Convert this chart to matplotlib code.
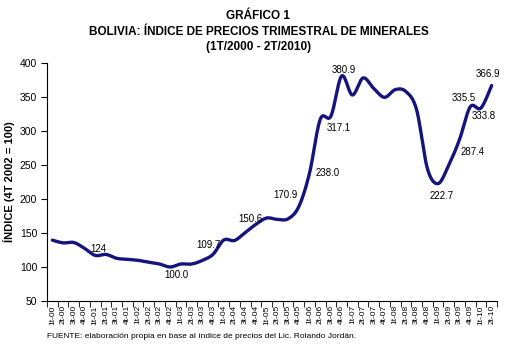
import numpy as np
import matplotlib.pyplot as plt

# Data
quarters = ["1t-00", "2t-00", "3t-00", "4t-00", "1t-01", "2t-01", "3t-01", "4t-01",
            "1t-02", "2t-02", "3t-02", "4t-02", "1t-03", "2t-03", "3t-03", "4t-03",
            "1t-04", "2t-04", "3t-04", "4t-04", "1t-05", "2t-05", "3t-05", "4t-05",
            "1t-06", "2t-06", "3t-06", "4t-06", "1t-07", "2t-07", "3t-07", "4t-07",
            "1t-08", "2t-08", "3t-08", "4t-08", "1t-09", "2t-09", "3t-09", "4t-09",
            "1t-10", "2t-10"]
index = [139.5, 135.5, 136.0, 127.5, 117.0, 118.5, 112.8, 111.3,
         109.8, 107.0, 104.4, 100.0, 104.4, 104.4, 109.7, 118.7,
         139.7, 139.0, 150.6, 162.8, 172.0, 170.0, 170.9, 188.7,
         238.0, 317.1, 322.0, 380.9, 353.0, 378.0, 362.5, 349.5,
         360.8, 358.0, 331.0, 245.0, 222.7, 250.0, 287.4, 335.5,
         333.8, 366.9]
# labels shown on the chart: (position, text)
label_pos = [5, 11, 14, 18, 22, 24, 25, 27, 36, 38, 39, 40, 41]
label_txt = ["124", "100.0", "109.7", "150.6", "170.9", "238.0", "317.1",
             "380.9", "222.7", "287.4", "335.5", "333.8", "366.9"]
# label offsets in pixels (dx, dy)
label_off = [(-8, 5), (6, -8), (6, 15), (5, 14), (-3, 24), (18, 0), (19, -9),
             (2, 6), (4, -12), (13, -12), (-6, 9), (3, -8), (-4, 12)]

plt.rcParams['font.family'] = ['Liberation Sans', 'DejaVu Sans']

# smoothed line (Catmull-Rom, like Excel's smoothed line)
x = np.arange(len(index), dtype=float)
y = np.array(index)
px = np.concatenate([[x[0]], x, [x[-1]]])
py = np.concatenate([[y[0]], y, [y[-1]]])
xs, ys = [], []
t = np.linspace(0, 1, 20)
for k in range(1, len(px) - 2):
    p0, p1, p2, p3 = [np.array([px[j], py[j]]) for j in (k - 1, k, k + 1, k + 2)]
    c1 = p1 + (p2 - p0) / 6
    c2 = p2 - (p3 - p1) / 6
    pts = (((1 - t) ** 3)[:, None] * p1 + (3 * (1 - t) ** 2 * t)[:, None] * c1
           + (3 * (1 - t) * t ** 2)[:, None] * c2 + (t ** 3)[:, None] * p2)
    xs.extend(pts[:, 0])
    ys.extend(pts[:, 1])

fig = plt.figure(figsize=(5.17, 3.5), dpi=100)
ax = fig.add_axes([47 / 517, 1 - 301 / 350, 450 / 517, 238 / 350])
ax.plot(xs, ys, color='#14147c', lw=2.4, solid_capstyle='round')

for i, txt, off in zip(label_pos, label_txt, label_off):
    ax.annotate(txt, (i, index[i]), xytext=off, textcoords='offset pixels',
                ha='center', va='center', fontsize=7)

ax.set_xlim(-0.5, len(quarters) - 0.5)
ax.set_ylim(50, 400)
ax.set_yticks(range(50, 401, 50))
ax.set_xticks(x)
ax.set_xticklabels(quarters, rotation=90, fontsize=6)
ax.set_xticks(np.arange(-0.5, len(quarters), 1), minor=True)
ax.tick_params(axis='x', which='major', length=0, pad=3)
ax.tick_params(axis='x', which='minor', length=4, direction='out')
ax.tick_params(axis='y', length=4, direction='out', labelsize=7.5, pad=3)
ax.spines['top'].set_visible(False)
ax.spines['right'].set_visible(False)
ax.set_ylabel('ÍNDICE (4T 2002 = 100)', fontsize=8, fontweight='bold')
ax.yaxis.set_label_coords(-0.07, 0.5)

fig.text(0.5, 1 - 16 / 350, 'GRÁFICO 1', ha='center', va='center', fontsize=8.5, fontweight='bold')
fig.text(0.5, 1 - 32 / 350, 'BOLIVIA: ÍNDICE DE PRECIOS TRIMESTRAL DE MINERALES',
         ha='center', va='center', fontsize=8.5, fontweight='bold')
fig.text(0.5, 1 - 47 / 350, '(1T/2000 - 2T/2010)', ha='center', va='center', fontsize=8.5, fontweight='bold')
fig.text(47 / 517, 1 - 337 / 350,
         'FUENTE: elaboración propia en base al índice de precios del Lic. Rolando Jordán.',
         ha='left', va='center', fontsize=6)

fig.savefig('out.png', dpi=100)
